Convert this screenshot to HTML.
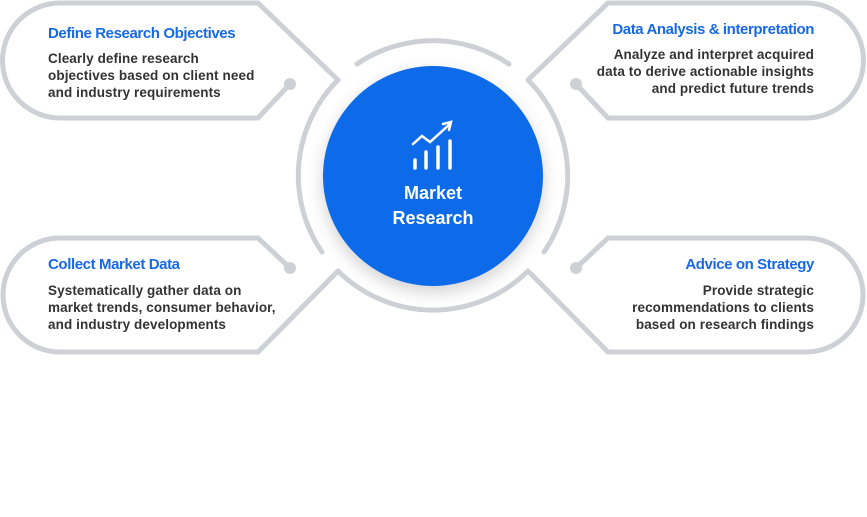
<!DOCTYPE html>
<html><head><meta charset="utf-8"><style>
body{margin:0;width:867px;height:517px;background:#fff;overflow:hidden;font-family:"Liberation Sans",sans-serif}
.t{position:absolute;font-size:15px;font-weight:bold;color:#1769e6;letter-spacing:-0.4px}
.b{position:absolute;font-size:13.5px;color:#333;line-height:17px;font-weight:bold;letter-spacing:0.1px}
.r{text-align:right}
</style></head><body>
<svg width="867" height="517" style="position:absolute;left:0;top:0">
<defs><filter id="s" x="-30%" y="-30%" width="160%" height="160%"><feDropShadow dx="0" dy="6" stdDeviation="8" flood-color="#000" flood-opacity="0.18"/></filter></defs>
<g fill="none" stroke="#cdd1d5" stroke-width="5" stroke-linecap="round">
<path d="M338,80 A135,135 0 0 0 322,252"/>
<path d="M357,64 A135,135 0 0 1 509,64"/>
<path d="M528,80 A135,135 0 0 1 544,252"/>
<path d="M338,271 A135,135 0 0 0 528,271"/>
<path d="M338,80 L258,3 L60,3 A57.5,57.5 0 0 0 60,118 L258,118 L290,84"/>
<path d="M290,268 L258,238 L60,238 A57,57 0 0 0 60,352 L258,352 L338,271"/>
<path d="M528,80 L608,3 L806,3 A57.5,57.5 0 0 1 806,118 L608,118 L576,84"/>
<path d="M576,268 L608,238 L806,238 A57,57 0 0 1 806,352 L608,352 L528,271"/>
</g>
<g fill="#cdd1d5"><circle cx="290" cy="84" r="6"/><circle cx="290" cy="268" r="6"/><circle cx="576" cy="84" r="6"/><circle cx="576" cy="268" r="6"/></g>
<circle cx="433" cy="176" r="110" fill="#0f6ae8" filter="url(#s)"/>
<g stroke="#fff" stroke-width="3.5" fill="none" stroke-linecap="round">
<line x1="415" y1="160" x2="415" y2="168"/><line x1="426" y1="152" x2="426" y2="168"/><line x1="438" y1="147" x2="438" y2="168"/><line x1="450" y1="141" x2="450" y2="168"/>
<path d="M413,144 L422,136 L430,142 L450,124" stroke-width="2.5"/>
<path d="M443,124 L451,122 L449,130" stroke-width="2.5"/>
</g>
<text x="433" y="199" fill="#fff" font-size="18" font-weight="bold" text-anchor="middle" font-family="Liberation Sans,sans-serif">Market</text>
<text x="433" y="224" fill="#fff" font-size="18" font-weight="bold" text-anchor="middle" font-family="Liberation Sans,sans-serif">Research</text>
</svg>
<div class="t" style="left:48px;top:25px">Define Research Objectives</div>
<div class="b" style="left:48px;top:50px">Clearly define research<br>objectives based on client need<br>and industry requirements</div>
<div class="t" style="left:48px;top:256px">Collect Market Data</div>
<div class="b" style="left:48px;top:282px">Systematically gather data on<br>market trends, consumer behavior,<br>and industry developments</div>
<div class="t r" style="right:53px;top:21px">Data Analysis &amp; interpretation</div>
<div class="b r" style="right:53px;top:46px">Analyze and interpret acquired<br>data to derive actionable insights<br>and predict future trends</div>
<div class="t r" style="right:53px;top:256px">Advice on Strategy</div>
<div class="b r" style="right:53px;top:282px">Provide strategic<br>recommendations to clients<br>based on research findings</div>
</body></html>
